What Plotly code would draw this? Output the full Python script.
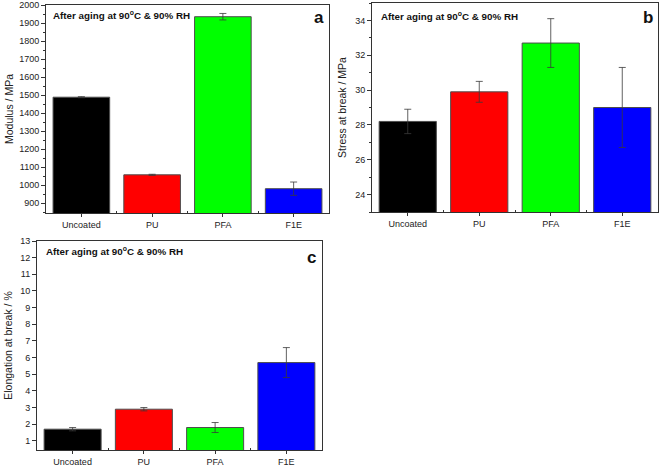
import plotly.graph_objects as go

categories = ["Uncoated", "PU", "PFA", "F1E"]
colors = ["#000000", "#ff0000", "#00ff00", "#0000ff"]

modulus = [1488, 1057, 1935, 980]
modulus_err = [3, 3, 18, 37]

stress = [28.2, 29.9, 32.7, 29.0]
stress_err = [0.7, 0.6, 1.4, 2.3]

elongation = [1.7, 2.9, 1.8, 5.7]
elongation_err = [0.1, 0.1, 0.3, 0.9]

W, H = 660, 467
FONT = "Liberation Sans, Arial, sans-serif"
pos = list(range(len(categories)))

def px_dom_x(a, b):
    return [a / W, b / W]

def px_dom_y(top, bottom):
    return [1 - bottom / H, 1 - top / H]

fig = go.Figure()

panels = [
    (modulus, modulus_err, "x", "y"),
    (stress, stress_err, "x2", "y2"),
    (elongation, elongation_err, "x3", "y3"),
]
for vals, errs, xa, ya in panels:
    fig.add_trace(go.Bar(
        x=pos, y=vals, width=0.8,
        marker=dict(color=colors, line=dict(color="#4d4d4d", width=1)),
        error_y=dict(type="data", array=errs, visible=True,
                     color="#3a3a3a", thickness=0.8, width=3.5),
        xaxis=xa, yaxis=ya, showlegend=False,
    ))

tickfont = dict(family=FONT, size=9, color="#222222")
titlefont = dict(family=FONT, size=10.5, color="#222222")

def xaxis(dom, anchor):
    return dict(domain=dom, anchor=anchor, range=[-0.5, 3.5],
                tickmode="array", tickvals=pos, ticktext=categories,
                ticks="outside", ticklen=3, tickwidth=1, tickcolor="#333",
                minor=dict(tickmode="array", tickvals=[0.5, 1.5, 2.5],
                           ticks="inside", ticklen=2, tickcolor="#333"),
                showline=True, linecolor="#333", linewidth=1, mirror=True,
                showgrid=False, zeroline=False, tickfont=tickfont,
                automargin=False, fixedrange=True)

def yaxis(dom, anchor, rng, dtick, minor, title, standoff):
    d = dict(domain=dom, anchor=anchor, range=rng, dtick=dtick, tick0=0,
             ticks="outside", ticklen=4, tickwidth=1, tickcolor="#333",
             showline=True, linecolor="#333", linewidth=1, mirror=True,
             showgrid=False, zeroline=False, tickfont=tickfont,
             title=dict(text=title, font=titlefont, standoff=standoff),
             automargin=False, fixedrange=True)
    if minor:
        d["minor"] = dict(dtick=minor, ticks="outside", ticklen=2,
                          tickcolor="#333", showgrid=False)
    return d

fig.update_layout(
    width=W, height=H,
    margin=dict(l=0, r=0, t=0, b=0),
    paper_bgcolor="white", plot_bgcolor="white",
    font=dict(family=FONT),
    bargap=0.2,
    xaxis=xaxis(px_dom_x(46, 329), "y"),
    yaxis=yaxis(px_dom_y(5, 213), "x", [845, 2000], 100, 50, "Modulus / MPa", 3),
    xaxis2=xaxis(px_dom_x(372, 658), "y2"),
    yaxis2=yaxis(px_dom_y(3, 212), "x2", [23, 35], 2, 1, "Stress at break / MPa", 6),
    xaxis3=xaxis(px_dom_x(37, 322), "y3"),
    yaxis3=yaxis(px_dom_y(241, 450), "x3", [0.45, 13], 1, None, "Elongation at break / %", 5),
)

label = "<b>After aging at 90<sup>o</sup>C &amp; 90% RH</b>"
anns = [
    ("x domain", "y domain", 0.018, 0.95, label),
    ("x2 domain", "y2 domain", 0.025, 0.94, label),
    ("x3 domain", "y3 domain", 0.025, 0.95, label),
]
for xr, yr, xx, yy, txt in anns:
    fig.add_annotation(xref=xr, yref=yr, x=xx, y=yy, text=txt, showarrow=False,
                       xanchor="left", yanchor="middle",
                       font=dict(family=FONT, size=9.8, color="#111"))

letters = [("x domain", "y domain", "a", 0.99, 0.94),
           ("x2 domain", "y2 domain", "b", 0.99, 0.93),
           ("x3 domain", "y3 domain", "c", 0.985, 0.92)]
for xr, yr, t, xx, yy in letters:
    fig.add_annotation(xref=xr, yref=yr, x=xx, y=yy, text="<b>" + t + "</b>",
                       showarrow=False, xanchor="right", yanchor="middle",
                       font=dict(family=FONT, size=17, color="#111"))

fig.write_html("out.html", config={"displayModeBar": False},
               post_script="document.body.style.margin='0';document.body.style.overflow='hidden';")
